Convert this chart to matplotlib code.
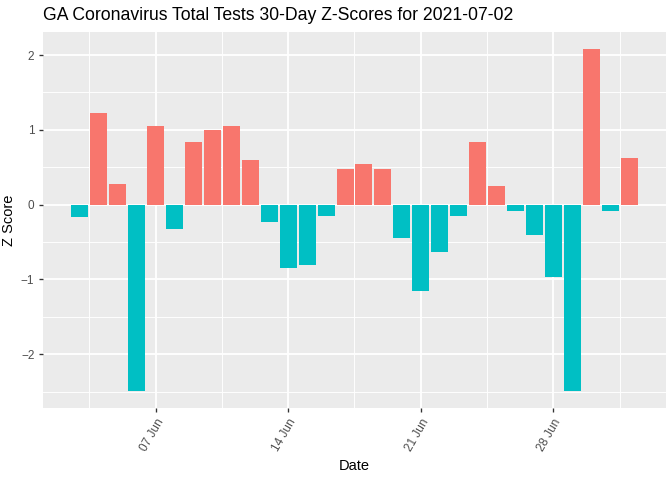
import numpy as np
import pandas as pd
import matplotlib
matplotlib.use("Agg")
import matplotlib.pyplot as plt
import matplotlib.dates as mdates
from matplotlib.ticker import FixedLocator

# 30 daily z-scores, 2021-06-03 .. 2021-07-02
dates = pd.date_range("2021-06-03", "2021-07-02", freq="D")
zscores = [-0.17, 1.23, 0.27, -2.49, 1.05, -0.33, 0.84, 1.00, 1.05, 0.60,
           -0.23, -0.85, -0.80, -0.15, 0.48, 0.55, 0.48, -0.44, -1.15, -0.63,
           -0.15, 0.84, 0.25, -0.09, -0.40, -0.97, -2.49, 2.08, -0.09, 0.63]
title = "GA Coronavirus Total Tests 30-Day Z-Scores for 2021-07-02"

pos_col = "#F8766D"
neg_col = "#00BFC4"

plt.rcParams["font.family"] = ["Liberation Sans", "DejaVu Sans"]

fig = plt.figure(figsize=(7, 5), dpi=96)
ax = fig.add_axes([43 / 672, 1 - 408 / 480, (666 - 43) / 672, (408 - 32) / 480])

x = mdates.date2num(dates)
z = np.array(zscores)
cols = [pos_col if v > 0 else neg_col for v in z]
ax.bar(x, z, width=0.9, color=cols, zorder=3)

# ggplot-style limits: 5% expansion
lo, hi = x[0] - 0.45, x[-1] + 0.45
pad = 0.05 * (hi - lo)
ax.set_xlim(lo - pad, hi + pad)
ylo, yhi = z.min(), z.max()
ypad = 0.05 * (yhi - ylo)
ax.set_ylim(ylo - ypad, yhi + ypad)

ax.set_facecolor("#EBEBEB")
for s in ax.spines.values():
    s.set_visible(False)

major_x = mdates.date2num(pd.to_datetime(["2021-06-07", "2021-06-14", "2021-06-21", "2021-06-28"]))
minor_x = np.concatenate([[major_x[0] - 3.5], major_x + 3.5])
ax.xaxis.set_major_locator(FixedLocator(major_x))
ax.xaxis.set_minor_locator(FixedLocator(minor_x))
ax.xaxis.set_major_formatter(mdates.DateFormatter("%d %b"))
ax.set_yticks([-2, -1, 0, 1, 2])
ax.set_yticks([-2.5, -1.5, -0.5, 0.5, 1.5], minor=True)

ax.grid(which="major", color="white", linewidth=1.4, zorder=0)
ax.grid(which="minor", color="white", linewidth=0.7, zorder=0)
ax.set_axisbelow(True)

ax.tick_params(which="major", length=3, width=1, color="#333333",
               labelsize=8.8, labelcolor="#4D4D4D")
ax.tick_params(which="minor", length=0)
for lab in ax.get_xticklabels():
    lab.set_rotation(60)
    lab.set_ha("right")
    lab.set_va("top")
    lab.set_rotation_mode("anchor")

ax.set_xlabel("Date", fontsize=11, color="black", labelpad=4)
ax.set_ylabel("Z Score", fontsize=11, color="black", labelpad=4)
fig.text(43 / 672, 1 - 15 / 480, title, fontsize=13.2, color="black",
         ha="left", va="center")

fig.savefig("out.png", dpi=96)
